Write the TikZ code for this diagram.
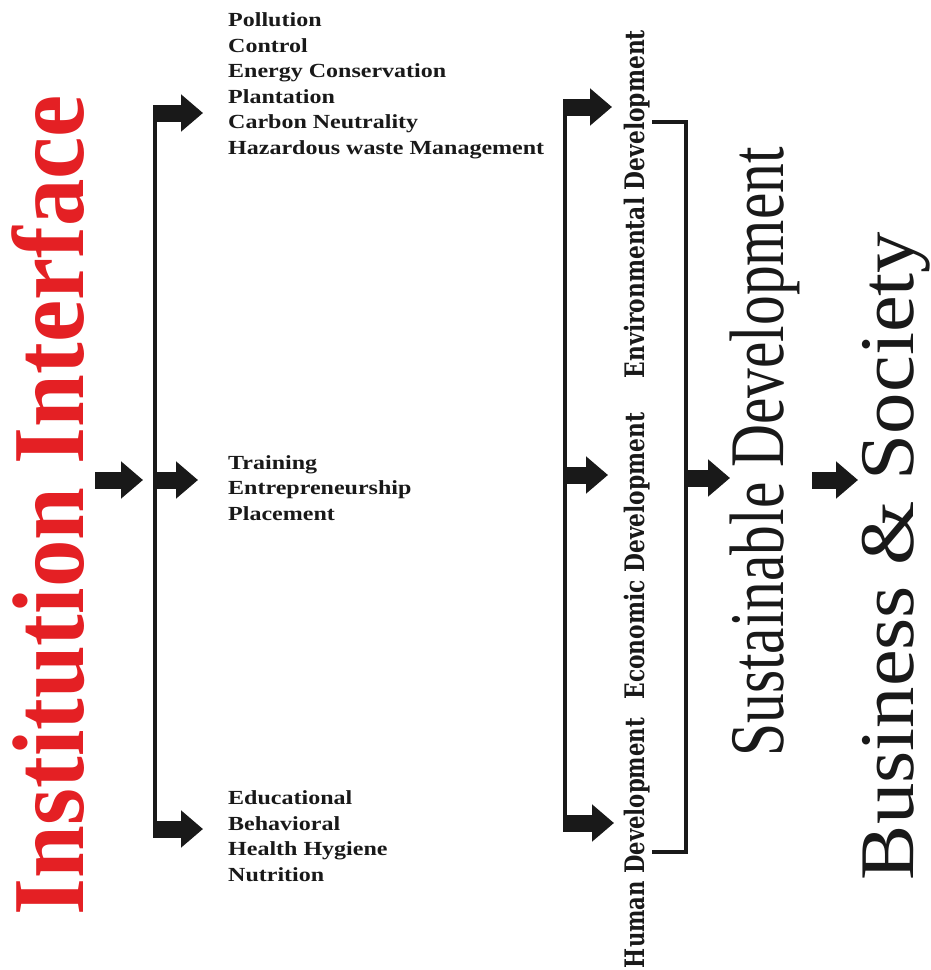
\documentclass[tikz,border=0pt]{standalone}
\usepackage{fontspec}
\setmainfont{Liberation Serif}
\newfontfamily\slabfont{DejaVu Serif}
\usetikzlibrary{arrows.meta}
\definecolor{titlered}{RGB}{228,32,36}
\definecolor{ink}{RGB}{25,25,25}
\tikzset{
  blk/.style={line width=17pt, draw=ink, -{Triangle[width=36pt,length=22pt]}},
  brk/.style={line width=4pt, draw=ink},
  item/.style={anchor=west, inner sep=0pt, align=left, text=ink,
    font=\bfseries\fontsize{20}{25.5}\selectfont, xscale=1.2, transform shape},
  vlab/.style={rotate=90, inner sep=0pt, text=ink},
  big/.style={rotate=90, inner sep=0pt, text=ink},
}
\begin{document}
\begin{tikzpicture}[x=1pt,y=-1pt]
\useasboundingbox (0,0) rectangle (930,970);
% title
\node[big, text=titlered] (title) at (48.5,505) {\resizebox*{820pt}{73pt}{\bfseries Institution Interface}};
% item blocks
\node[item] (t1) at (228,86) {Pollution\\Control\\Energy Conservation\\Plantation\\Carbon Neutrality\\Hazardous waste Management};
\node[item] (t2) at (228,488) {Training\\Entrepreneurship\\Placement};
\node[item] (t3) at (228,836) {Educational\\Behavioral\\Health Hygiene\\Nutrition};
% vertical labels
\node[vlab] (env) at (637,204) {\resizebox*{348pt}{26pt}{\slabfont\bfseries Environmental Development}};
\node[vlab] (eco) at (637,556) {\resizebox*{287pt}{26pt}{\slabfont\bfseries Economic Development}};
\node[vlab] (hum) at (637,843) {\resizebox*{250pt}{26pt}{\slabfont\bfseries Human Development}};
% right texts
\node[big] (sd) at (765,452) {\resizebox*{609pt}{70pt}{Sustainable Development}};
\node[big] (bs) at (896,556) {\resizebox*{648pt}{68pt}{Business \& Society}};
% coordinates
\coordinate (a0s) at (95,480);
\coordinate (a0e) at (143,480);
\coordinate (b1t) at (155,113);
\coordinate (b1m) at (155,480);
\coordinate (b1b) at (155,829);
\coordinate (b1te) at (203,113);
\coordinate (b1me) at (198,480);
\coordinate (b1be) at (203,829);
\coordinate (b2t) at (565,107);
\coordinate (b2m) at (565,475);
\coordinate (b2b) at (565,823);
\coordinate (b2te) at (612,107);
\coordinate (b2me) at (608,475);
\coordinate (b2be) at (614,823);
\coordinate (r1) at (652,122);
\coordinate (r2) at (686,122);
\coordinate (r3) at (686,852);
\coordinate (r4) at (652,852);
\coordinate (rm) at (686,478);
\coordinate (rme) at (730,478);
\coordinate (s1) at (812,480);
\coordinate (s2) at (858,480);
% connectors
\draw[blk] (a0s) -- (a0e);
\draw[brk] ([yshift=-2pt]b1t) -- ([yshift=2pt]b1b);
\draw[blk] ([xshift=-2pt]b1t) -- (b1te);
\draw[blk] (b1m) -- (b1me);
\draw[blk] ([xshift=-2pt]b1b) -- (b1be);
\draw[brk] ([yshift=-2pt]b2t) -- ([yshift=2pt]b2b);
\draw[blk] ([xshift=-2pt]b2t) -- (b2te);
\draw[blk] (b2m) -- (b2me);
\draw[blk] ([xshift=-2pt]b2b) -- (b2be);
\draw[brk] (r1) -- (r2) -- (r3) -- (r4);
\draw[blk] (rm) -- (rme);
\draw[blk] (s1) -- (s2);
\end{tikzpicture}
\end{document}
